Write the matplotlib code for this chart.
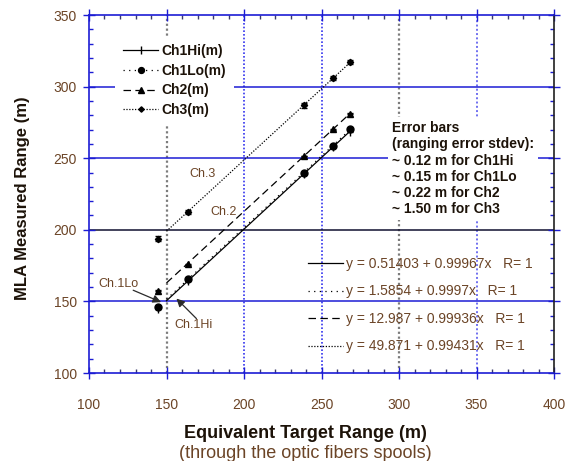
import matplotlib
matplotlib.use("Agg")
import matplotlib.pyplot as plt
from matplotlib.lines import Line2D
from matplotlib.ticker import MultipleLocator

plt.rcParams['font.family'] = ['Liberation Sans', 'DejaVu Sans']

# ---------------- data ----------------
target_range = [144.5, 164.0, 238.7, 257.5, 268.2]
ch1hi = [145.0, 164.5, 239.1, 257.9, 268.6]
ch1lo = [146.0, 165.4, 239.7, 258.8, 270.2]
ch2 = [157.4, 175.9, 251.5, 270.2, 281.1]
ch3 = [193.9, 212.4, 286.9, 306.0, 317.2]
series_names = ['Ch1Hi(m)', 'Ch1Lo(m)', 'Ch2(m)', 'Ch3(m)']
stdev = [0.12, 0.15, 0.22, 1.50]
fit_intercept_txt = ['0.51403', '1.5854', '12.987', '49.871']
fit_slope_txt = ['0.99967', '0.9997', '0.99936', '0.99431']
fit_range = [150.0, 268.2]
x_ticks = [100, 150, 200, 250, 300, 350, 400]
y_ticks = [100, 150, 200, 250, 300, 350]

BLUE = '#1c1cd4'
DOT_BLUE = '#3434ee'
LIGHT_BLUE = '#7070f0'
GRAY = '#7c7c7c'
TXT = '#6b4426'
BOLD_TXT = '#1c1208'

fig = plt.figure(figsize=(5.7, 4.61), dpi=100)
fig.patch.set_facecolor('white')
ax = fig.add_axes([89 / 570, 1 - 373 / 461, (554 - 89) / 570, (373 - 15) / 461])
ax.set_xlim(100, 400)
ax.set_ylim(100, 350)

# ---------------- grid lines ----------------
ax.axvline(150, color=GRAY, lw=1.6, ls=(0, (1, 1.2)), zorder=1)
ax.axvline(200, color=DOT_BLUE, lw=1.2, ls=(0, (1, 1.2)), zorder=1)
ax.axvline(250, color=DOT_BLUE, lw=1.2, ls=(0, (1, 1.2)), zorder=1)
ax.axvline(300, color=GRAY, lw=1.6, ls=(0, (1, 1.2)), zorder=1)
ax.axvline(350, color=LIGHT_BLUE, lw=1.4, ls=(0, (1, 1.2)), zorder=1)
ax.axhline(150, color=BLUE, lw=1.1, zorder=1)
ax.axhline(200, color='#101030', lw=1.1, zorder=1)
ax.axhline(250, color=BLUE, lw=1.1, zorder=1)
ax.axhline(300, color=BLUE, lw=1.1, zorder=1)

# ---------------- series ----------------
styles = [
    dict(ls='-', marker='|', ms=6, dashes=None),
    dict(ls=':', marker='o', ms=5, dashes=(1, 3.5)),
    dict(ls='--', marker='^', ms=5, dashes=(6, 3.5)),
    dict(ls=':', marker='D', ms=3.2, dashes=(1, 1.3)),
]
values = [ch1hi, ch1lo, ch2, ch3]
handles = []
eq_handles = []
eq_labels = []
for i, (vals, st) in enumerate(zip(values, styles)):
    a = float(fit_intercept_txt[i])
    b = float(fit_slope_txt[i])
    xs = fit_range
    ys = [a + b * x for x in xs]
    line, = ax.plot(xs, ys, color='black', lw=0.9, ls=st['ls'], zorder=3)
    if st['dashes'] is not None:
        line.set_dashes(st['dashes'])
    ax.errorbar(target_range, vals, yerr=stdev[i], fmt=st['marker'],
                color='black', ms=st['ms'], elinewidth=0.8, capsize=2,
                capthick=0.8, zorder=4, mew=1)
    h = Line2D([], [], color='black', lw=0.9, ls=st['ls'],
               marker=st['marker'], ms=st['ms'] * 0.85)
    e = Line2D([], [], color='black', lw=0.9, ls=st['ls'])
    if st['dashes'] is not None:
        h.set_dashes(st['dashes'])
        e.set_dashes(st['dashes'])
    handles.append(h)
    eq_handles.append(e)
    eq_labels.append('y = %s + %sx   R= 1' % (fit_intercept_txt[i], fit_slope_txt[i]))

leg1 = ax.legend(handles, series_names, loc='upper left',
                 bbox_to_anchor=((115 - 89) / 465, 1 - (36 - 15) / 358),
                 borderaxespad=0, borderpad=0.6, frameon=True, fancybox=False,
                 framealpha=1, edgecolor='none', facecolor='white',
                 handlelength=2.5, handletextpad=0.25, labelspacing=0.4,
                 prop=dict(weight='bold', size=10))
for t in leg1.get_texts():
    t.set_color(BOLD_TXT)
leg1.set_zorder(6)
ax.add_artist(leg1)

leg2 = ax.legend(eq_handles, eq_labels, loc='upper left',
                 bbox_to_anchor=((308 - 89) / 465, 1 - (257 - 15) / 358),
                 borderaxespad=0, borderpad=0, frameon=False,
                 handlelength=2.5, handletextpad=0.2, labelspacing=0.97,
                 prop=dict(size=10))
for t in leg2.get_texts():
    t.set_color(TXT)

# ---------------- error-bar note ----------------
note = ('Error bars\n(ranging error stdev):\n'
        + '\n'.join('~ %.2f m for %s' % (s, n.replace('(m)', ''))
                    for s, n in zip(stdev, series_names)))
ax.text(295.5, 275.8, note, fontsize=10, fontweight='bold', color=BOLD_TXT,
        va='top', ha='left', linespacing=1.2, zorder=6,
        bbox=dict(facecolor='white', edgecolor='none', pad=3))

# ---------------- annotations ----------------
ax.text(164.6, 238.8, 'Ch.3', fontsize=9, color=TXT, va='center', ha='left', zorder=5)
ax.text(178.0, 212.4, 'Ch.2', fontsize=9, color=TXT, va='center', ha='left', zorder=5)
ax.text(105.8, 162.4, 'Ch.1Lo', fontsize=9, color=TXT, va='center', ha='left', zorder=5)
ax.text(155.4, 133.3, 'Ch.1Hi', fontsize=9, color=TXT, va='center', ha='left', zorder=5)
arrow = dict(arrowstyle='-|>', color='#2a2a2a', lw=0.9, mutation_scale=12,
             shrinkA=0, shrinkB=0)
ax.annotate('', xy=(146.5, 149.5), xytext=(128.5, 157.8), arrowprops=arrow, zorder=5)
ax.annotate('', xy=(156.4, 152.0), xytext=(169.3, 138.0), arrowprops=arrow, zorder=5)

# ---------------- axes styling ----------------
for side in ['left', 'bottom', 'top']:
    ax.spines[side].set_color(BLUE)
    ax.spines[side].set_linewidth(1.2)
ax.spines['right'].set_color('#202020')
ax.spines['right'].set_linewidth(1.2)

ax.set_xticks(x_ticks)
ax.set_yticks(y_ticks)
ax.xaxis.set_minor_locator(MultipleLocator(10))
ax.yaxis.set_minor_locator(MultipleLocator(10))
ax.tick_params(axis='x', which='major', direction='inout', length=9, width=1,
               color=BLUE, labelsize=10, labelcolor=TXT, pad=13.5,
               top=True)
ax.tick_params(axis='x', which='minor', direction='in', length=3, width=1,
               color='#3a3a6a', top=True)
ax.tick_params(axis='y', which='major', direction='inout', length=9, width=1,
               color=BLUE, labelsize=10, labelcolor=TXT, pad=4.3, right=True)
ax.tick_params(axis='y', which='minor', direction='in', length=3, width=1,
               color=BLUE, right=True)
for tk in ax.xaxis.get_major_ticks():
    if tk.get_loc() in (150, 300):
        tk.tick1line.set_color('#303030')
        tk.tick2line.set_color('#303030')

# ---------------- labels ----------------
fig.text(305 / 570, 1 - 433 / 461, 'Equivalent Target Range (m)', fontsize=13,
         fontweight='bold', color=BOLD_TXT, ha='center', va='center')
fig.text(305 / 570, 1 - 453 / 461, '(through the optic fibers spools)', fontsize=13,
         color=TXT, ha='center', va='center')
fig.text(23 / 570, 1 - 198 / 461, 'MLA Measured Range (m)', fontsize=12,
         fontweight='bold', color=BOLD_TXT, ha='center', va='center',
         rotation=90)

fig.savefig('out.png', dpi=100, facecolor='white')
